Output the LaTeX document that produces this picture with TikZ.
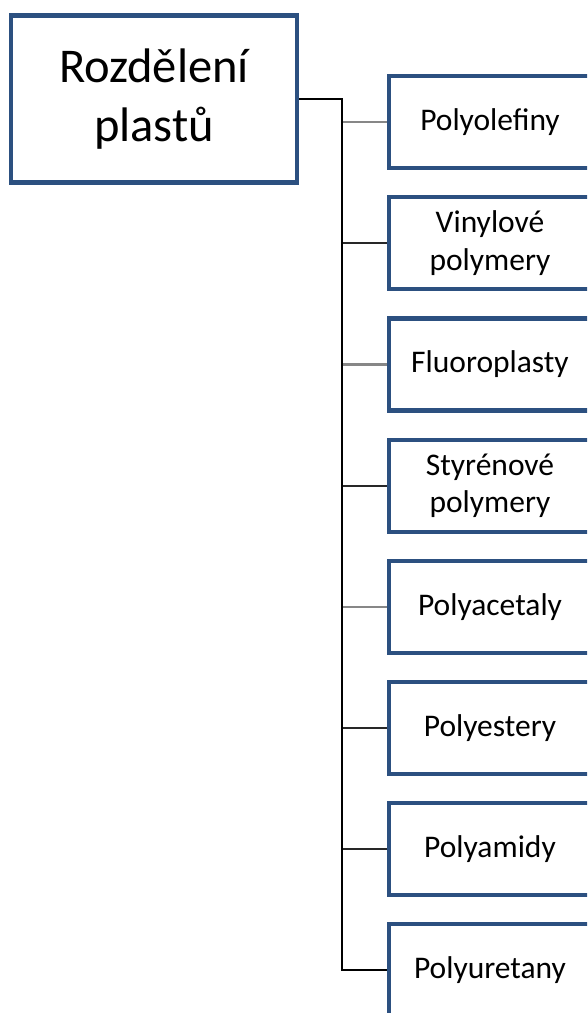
\documentclass[tikz,border=0pt]{standalone}
\usepackage{fontspec}
\setmainfont{Carlito}
\definecolor{boxblue}{RGB}{44,80,128}
\definecolor{linegray}{RGB}{135,135,135}
\definecolor{linedark}{RGB}{40,40,40}
\begin{document}
\begin{tikzpicture}[x=1pt,y=-1pt,
  rootbox/.style={draw=boxblue,line width=4.5pt,fill=white,minimum width=286pt,minimum height=167pt,inner sep=0pt,align=center,font=\fontsize{48.5}{59}\selectfont},
  childbox/.style={draw=boxblue,line width=4.5pt,fill=white,minimum width=202pt,minimum height=92pt,inner sep=0pt,align=center,font=\fontsize{31.5}{37.5}\selectfont},
  trunk/.style={draw=black,line width=1.8pt},
  branch/.style={draw=linedark,line width=1.4pt},
  graybranch/.style={draw=linegray,line width=2.6pt}]
\useasboundingbox (0,0) rectangle (587,1013);
\clip (0,0) rectangle (587,1013);
\node[rootbox] (root) at (154,99) {Rozdělení\\plastů};
\node[childbox] (c1) at (490,122) {Polyolefiny};
\node[childbox] (c2) at (490,243) {Vinylové\\polymery};
\node[childbox] (c3) at (490,364.5) {Fluoroplasty};
\node[childbox] (c4) at (490,486) {Styrénové\\polymery};
\node[childbox] (c5) at (490,607) {Polyacetaly};
\node[childbox] (c6) at (490,728) {Polyestery};
\node[childbox] (c7) at (490,849) {Polyamidy};
\node[childbox] (c8) at (490,970) {Polyuretany};
\coordinate (j0) at (342,99);
\foreach \i in {1,3,5} {
  \draw[graybranch] (c\i.west -| j0) -- (c\i.west);
}
\foreach \i in {2,4,6,7} {
  \draw[branch] (c\i.west -| j0) -- (c\i.west);
}
\draw[trunk] (root.east) -- (j0) |- (c8.west);
\end{tikzpicture}
\end{document}
